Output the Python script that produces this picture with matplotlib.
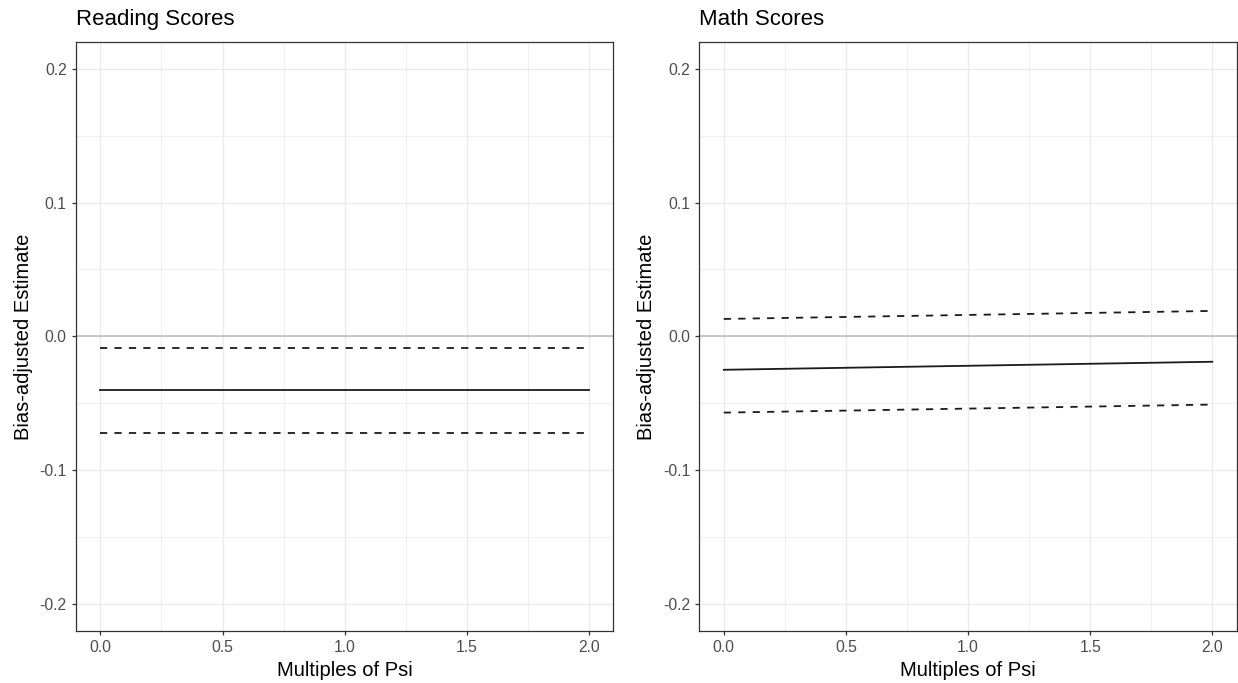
import matplotlib
matplotlib.use("Agg")
import matplotlib.pyplot as plt
from matplotlib.ticker import FixedLocator, MultipleLocator

plt.rcParams["font.family"] = ["Liberation Sans", "DejaVu Sans"]
plt.rcParams["axes.unicode_minus"] = False

# Sensitivity analysis: estimate and confidence bounds vs. multiples of psi
psi = [0.0, 1.0, 2.0]

reading_est = [-0.040, -0.040, -0.040]
reading_upper = [-0.009, -0.009, -0.009]
reading_lower = [-0.072, -0.072, -0.072]

math_est = [-0.025, -0.022, -0.019]
math_upper = [0.013, 0.016, 0.019]
math_lower = [-0.057, -0.054, -0.051]

panel_titles = ["Reading Scores", "Math Scores"]
x_ticks = [0.0, 0.5, 1.0, 1.5, 2.0]
y_ticks = [-0.2, -0.1, 0.0, 0.1, 0.2]

panels = [
    (reading_est, reading_upper, reading_lower),
    (math_est, math_upper, math_lower),
]

fig = plt.figure(figsize=(12.38, 6.83), dpi=100)
positions = [
    [0.0614, 0.0766, 0.4340, 0.8619],
    [0.5649, 0.0766, 0.4341, 0.8619],
]

grid_col = "#EBEBEB"
frame_col = "#333333"
tick_col = "#4D4D4D"

for pos, title, (est, up, lo) in zip(positions, panel_titles, panels):
    ax = fig.add_axes(pos)
    ax.set_xlim(-0.1, 2.1)
    ax.set_ylim(-0.22, 0.22)

    ax.xaxis.set_major_locator(FixedLocator(x_ticks))
    ax.yaxis.set_major_locator(FixedLocator(y_ticks))
    ax.xaxis.set_minor_locator(MultipleLocator(0.25))
    ax.yaxis.set_minor_locator(MultipleLocator(0.05))
    ax.set_xticklabels([f"{v:.1f}" for v in x_ticks])
    ax.set_yticklabels([f"{v:.1f}" for v in y_ticks])

    ax.grid(which="major", color=grid_col, linewidth=1.0)
    ax.grid(which="minor", color=grid_col, linewidth=0.55)
    ax.set_axisbelow(True)
    ax.tick_params(which="minor", length=0)
    ax.tick_params(which="major", length=3.2, width=0.9, color=frame_col,
                   labelsize=11.3, labelcolor=tick_col, pad=3.5)

    for sp in ax.spines.values():
        sp.set_color(frame_col)
        sp.set_linewidth(0.9)

    ax.axhline(0.0, color="#BEBEBE", linewidth=1.2, zorder=1.5)

    ax.plot(psi, est, color="#1a1a1a", linewidth=1.3, zorder=3)
    for band in (up, lo):
        ax.plot(psi, band, color="#1a1a1a", linewidth=1.3,
                linestyle=(0, (4.0, 4.0)), zorder=3)

    ax.set_title(title, loc="left", fontsize=16, pad=12)
    ax.set_xlabel("Multiples of Psi", fontsize=14.5, labelpad=4)
    ax.set_ylabel("Bias-adjusted Estimate", fontsize=14.5, labelpad=5)

fig.savefig("out.png", dpi=100, facecolor="white")
